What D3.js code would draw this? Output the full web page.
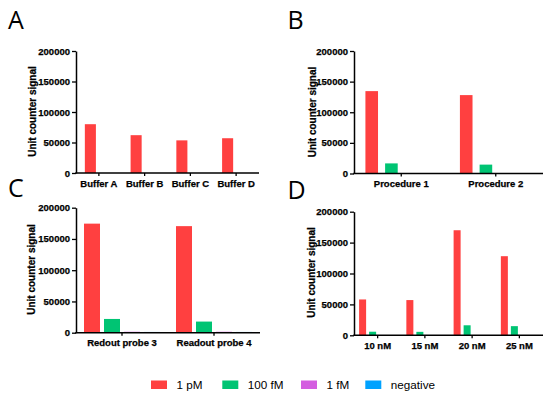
<!DOCTYPE html>
<html><head><meta charset="utf-8">
<script src="https://cdn.jsdelivr.net/npm/d3@7"></script>
<style>body{margin:0;background:#fff}svg{display:block}</style>
</head><body>
<svg id="c" width="550" height="399"></svg>
<script>
const seriesNames = ["1 pM", "100 fM", "1 fM", "negative"];
const seriesColors = ["#ff4040", "#00c473", "#d45ee0", "#00a2ff"];
const yTicks = [0, 50000, 100000, 150000, 200000];

const catsA = ["Buffer A", "Buffer B", "Buffer C", "Buffer D"];
const valsA_1pM = [80000, 62000, 53500, 57000];
const valsA_100fM = [0, 0, 0, 0];

const catsB = ["Procedure 1", "Procedure 2"];
const valsB_1pM = [134500, 128000];
const valsB_100fM = [16500, 14500];
const valsB_1fM = [0, 0];
const valsB_neg = [0, 0];

const catsC = ["Redout probe 3", "Readout probe 4"];
const valsC_1pM = [174500, 170500];
const valsC_100fM = [22000, 17800];
const valsC_1fM = [1500, 1500];
const valsC_neg = [1200, 1200];

const catsD = ["10 nM", "15 nM", "20 nM", "25 nM"];
const valsD_1pM = [58000, 57000, 170000, 128000];
const valsD_100fM = [5800, 5600, 16200, 14800];
const valsD_1fM = [0, 0, 0, 0];
const valsD_neg = [0, 0, 0, 0];

const panels = [
  {letter:"A", lx:8, ly:28.5, cats:catsA, series:[valsA_1pM, valsA_100fM], x0:76, x1:259, yTop:51, yZero:173, pi:0.35, po:0.52, tx:32, ty:111.5},
  {letter:"B", lx:287.5, ly:28.5, cats:catsB, series:[valsB_1pM, valsB_100fM, valsB_1fM, valsB_neg], x0:354, x1:543, yTop:51, yZero:173.5, pi:0.36, po:0.58, tx:312.5, ty:112},
  {letter:"C", lx:8, ly:197, cats:catsC, series:[valsC_1pM, valsC_100fM, valsC_1fM, valsC_neg], x0:76, x1:260, yTop:207.7, yZero:332.7, pi:0.2, po:0.4, tx:31, ty:269.5},
  {letter:"D", lx:287.5, ly:198.5, cats:catsD, series:[valsD_1pM, valsD_100fM, valsD_1fM, valsD_neg], x0:354, x1:543, yTop:211.7, yZero:335.3, pi:0.3, po:0.51, tx:311, ty:272.5}
];

const svg = d3.select("#c");
const font = "'Liberation Sans', Arial, sans-serif";

panels.forEach(p => {
  const g = svg.append("g");
  g.append("text").attr("x", p.lx).attr("y", p.ly).text(p.letter)
    .attr("font-family", "'Open Sans', 'Liberation Sans', sans-serif").attr("font-size", 25).attr("fill", "#000");

  const y = d3.scaleLinear().domain([0, 200000]).range([p.yZero, p.yTop]);
  const x = d3.scaleBand().domain(p.cats).range([p.x0, p.x1]).padding(0);
  const sIdx = p.series.map((_, i) => i);
  const xs = d3.scaleBand().domain(sIdx).range([0, x.bandwidth()]).paddingInner(p.pi).paddingOuter(p.po);

  p.cats.forEach((c, ci) => {
    g.selectAll(null).data(sIdx).enter().append("rect")
      .attr("x", i => x(c) + xs(i))
      .attr("width", xs.bandwidth())
      .attr("y", i => y(p.series[i][ci]))
      .attr("height", i => y(0) - y(p.series[i][ci]))
      .attr("fill", i => seriesColors[i]);
  });

  const ya = g.append("g").attr("transform", `translate(${p.x0},0)`)
    .call(d3.axisLeft(y).tickValues(yTicks).tickFormat(d3.format("d")).tickSize(4).tickSizeOuter(0).tickPadding(2));
  const xa = g.append("g").attr("transform", `translate(0,${p.yZero})`)
    .call(d3.axisBottom(x).tickSize(3).tickSizeOuter(0).tickPadding(4));
  [ya, xa].forEach(a => {
    a.selectAll("path").attr("stroke", "#000").attr("stroke-width", 1.5);
    a.selectAll("line").attr("stroke", "#000").attr("stroke-width", 1.3);
    a.selectAll("text").attr("fill", "#000").attr("font-family", font).attr("font-weight", "bold").attr("font-size", 9.5)
      .attr("stroke", "#000").attr("stroke-width", 0.25);
  });
  xa.select(".domain").attr("d", `M${p.x0 - 0.75},0H${p.x1}`);

  g.append("text").attr("transform", `translate(${p.tx},${p.ty}) rotate(-90)`)
    .attr("text-anchor", "middle").attr("dominant-baseline", "central")
    .attr("font-family", font).attr("font-weight", "bold").attr("font-size", 10).attr("fill", "#000")
    .attr("stroke", "#000").attr("stroke-width", 0.25)
    .text("Unit counter signal");
});

const legendX = [151, 222.3, 301, 365.3];
const lg = svg.append("g");
seriesNames.forEach((n, i) => {
  lg.append("rect").attr("x", legendX[i]).attr("y", 380.5).attr("width", 16).attr("height", 8.5).attr("fill", seriesColors[i]);
  lg.append("text").attr("x", legendX[i] + 25.5).attr("y", 388.7).text(n)
    .attr("font-family", font).attr("font-size", 11.7).attr("fill", "#000");
});
</script>
</body></html>
